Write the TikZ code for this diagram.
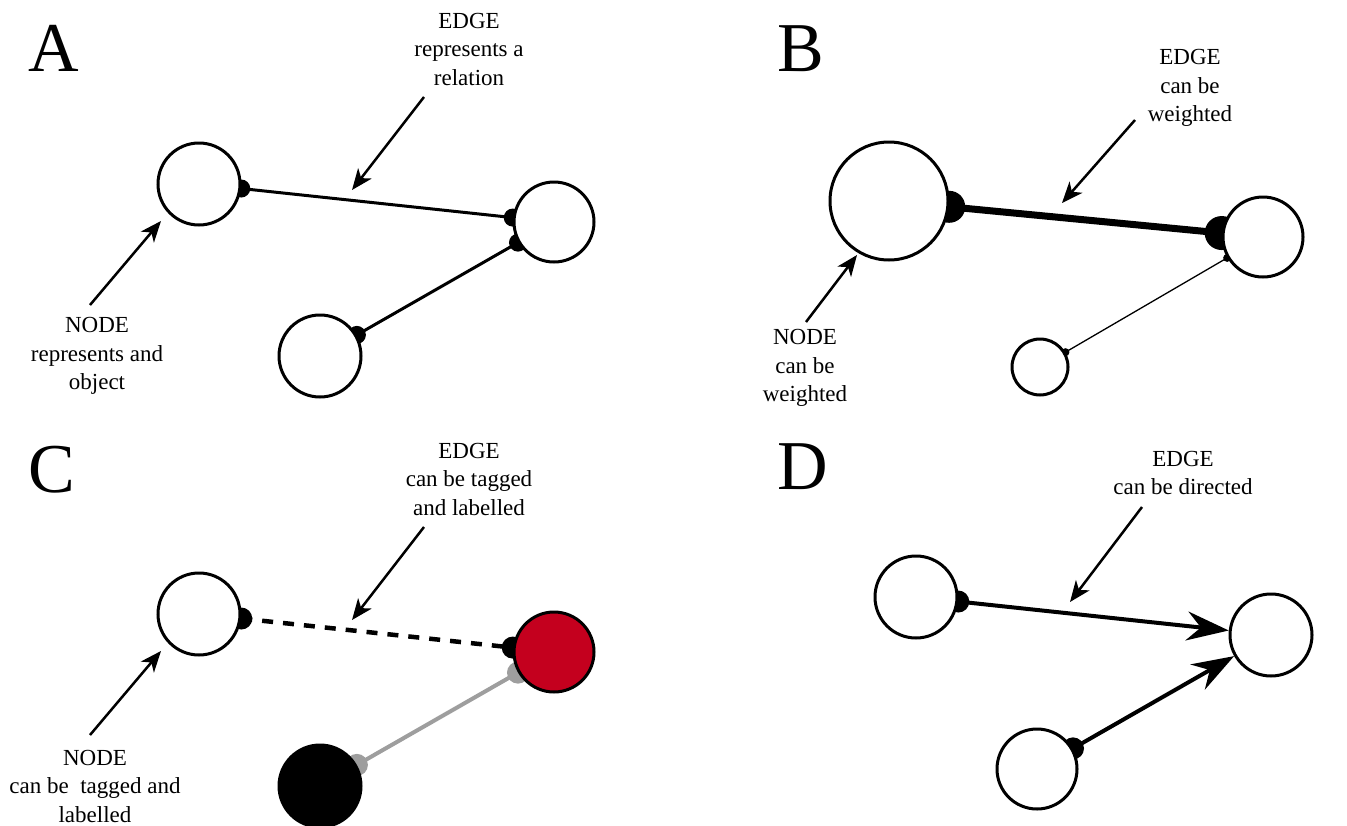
\documentclass[tikz,border=0pt]{standalone}
\usepackage{fontspec}
\setmainfont{Liberation Serif}
\usetikzlibrary{arrows.meta}
\pgfdeclarelayer{paper}
\pgfdeclarelayer{edges}
\pgfsetlayers{paper,edges,main}
\definecolor{tagred}{RGB}{196,0,30}
\definecolor{taggray}{RGB}{158,158,158}

\begin{document}
\begin{tikzpicture}[x=1pt,y=-1pt,
  vertex/.style={circle, draw=black, line width=3pt, fill=white, inner sep=0pt, minimum size=#1},
  dot/.style={circle, fill=black, inner sep=0pt, minimum size=#1},
  link/.style={line width=3pt},
  lbl/.style={align=center, inner sep=0pt, font=\fontsize{23}{28.5}\selectfont},
  panel/.style={anchor=base west, inner sep=0pt, font=\fontsize{70}{70}\selectfont},
  pointer/.style={line width=2.5pt, -{Stealth[length=21pt,width=17pt,inset=6pt]}},
  headed/.style={line width=4pt, -{Stealth[length=42pt,width=29pt,inset=14pt]}}]

\begin{pgfonlayer}{paper}
  \fill[white] (0,0) rectangle (1347,825);
\end{pgfonlayer}
\useasboundingbox (0,0) rectangle (1347,825);

% panel letters
\node[panel] (lA) at (28,71) {A};
\node[panel] (lB) at (777,71) {B};
\node[panel] (lC) at (28,492) {C};
\node[panel] (lD) at (777,489) {D};

% ---------- A: nodes and edges ----------
\node[vertex=82pt] (a1) at (199,184) {};
\node[vertex=80pt] (a2) at (554,222) {};
\node[vertex=82pt] (a3) at (320,356) {};
\begin{pgfonlayer}{edges}
  \draw[link] (a1) -- node[dot=18pt,pos=0]{} node[dot=18pt,pos=1]{} (a2);
  \draw[link] (a3) -- node[dot=18pt,pos=0]{} node[dot=18pt,pos=1]{} (a2);
\end{pgfonlayer}
\node[lbl] (tA1) at (469,49) {EDGE\\represents a\\relation};
\node[lbl] (tA2) at (97,356) {NODE\\represents and\\object};
\coordinate (pA1s) at (424,97);  \coordinate (pA1e) at (352,190);
\coordinate (pA2s) at (90,305);  \coordinate (pA2e) at (161,221);
\draw[pointer] (pA1s) -- (pA1e);
\draw[pointer] (pA2s) -- (pA2e);

% ---------- B: weighted nodes and edges ----------
\node[vertex=118pt] (b1) at (889,201) {};
\node[vertex=80pt] (b2) at (1263,237) {};
\node[vertex=56pt] (b3) at (1040,367) {};
\begin{pgfonlayer}{edges}
  \draw[line width=7pt] (b1) -- node[dot=32pt,pos=0]{} node[dot=34pt,pos=1]{} (b2);
  \draw[line width=1.3pt] (b3) -- node[dot=8pt,pos=0]{} node[dot=8pt,pos=1]{} (b2);
\end{pgfonlayer}
\node[lbl] (tB1) at (1190,88) {EDGE\\can be\\weighted};
\node[lbl] (tB2) at (805,368) {NODE\\can be\\weighted};
\coordinate (pB1s) at (1135,120); \coordinate (pB1e) at (1062,203);
\coordinate (pB2s) at (806,322);  \coordinate (pB2e) at (857,255);
\draw[pointer] (pB1s) -- (pB1e);
\draw[pointer] (pB2s) -- (pB2e);

% ---------- C: tagged and labelled ----------
\node[vertex=82pt] (c1) at (199,614) {};
\node[vertex=80pt, fill=tagred] (c2) at (554,652) {};
\node[vertex=82pt, fill=black] (c3) at (320,786) {};
\begin{pgfonlayer}{edges}
  \draw[line width=4.5pt, dash pattern=on 11pt off 10pt] (c1) -- node[dot=22pt,pos=0]{} node[dot=22pt,pos=1]{} (c2);
  \draw[line width=4pt, taggray] (c3) -- node[dot=22pt,fill=taggray,pos=0]{} node[dot=22pt,fill=taggray,pos=1]{} (c2);
\end{pgfonlayer}
\node[lbl] (tC1) at (469,479) {EDGE\\can be tagged\\and labelled};
\node[lbl] (tC2) at (95,786) {NODE\\can be\ \ tagged and\\labelled};
\coordinate (pC1s) at (424,527); \coordinate (pC1e) at (352,620);
\coordinate (pC2s) at (90,735);  \coordinate (pC2e) at (161,651);
\draw[pointer] (pC1s) -- (pC1e);
\draw[pointer] (pC2s) -- (pC2e);

% ---------- D: directed edges ----------
\node[vertex=82pt] (d1) at (916,597) {};
\node[vertex=82pt] (d2) at (1271,635) {};
\node[vertex=80pt] (d3) at (1037,769) {};
\begin{pgfonlayer}{edges}
  \draw[headed] (d1) -- node[dot=22pt,pos=0]{} (d2);
  \draw[headed] (d3) -- node[dot=22pt,pos=0]{} (d2);
\end{pgfonlayer}
\node[lbl] (tD1) at (1183,473) {EDGE\\can be directed};
\coordinate (pD1s) at (1142,507); \coordinate (pD1e) at (1070,602);
\draw[pointer] (pD1s) -- (pD1e);
\end{tikzpicture}
\end{document}
